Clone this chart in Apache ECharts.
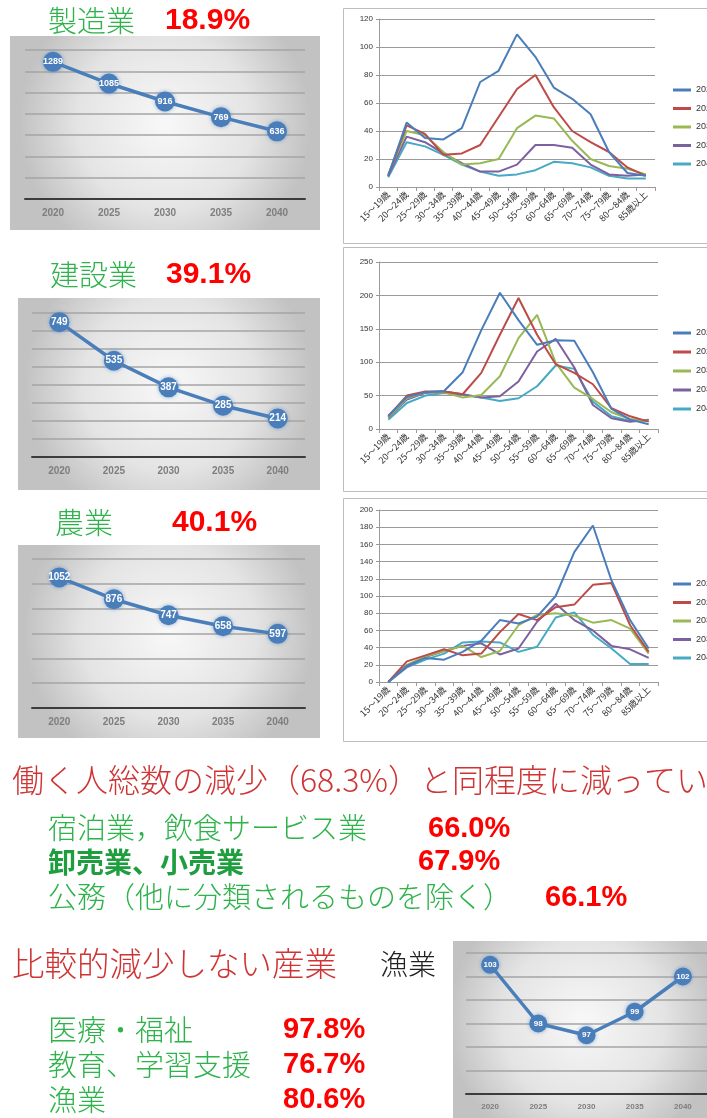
<!DOCTYPE html>
<html>
<head>
<meta charset="utf-8">
<script src="https://cdn.jsdelivr.net/npm/echarts@6/dist/echarts.min.js"></script>
<style>
  html, body { margin: 0; padding: 0; background: #ffffff; }
  #main { width: 707px; height: 1118px; }
</style>
</head>
<body>
<div id="main"></div>
<script>
// ---- data ----
const years = ['2020', '2025', '2030', '2035', '2040'];
const ageGroups = ['15～19歳', '20～24歳', '25～29歳', '30～34歳', '35～39歳', '40～44歳', '45～49歳',
  '50～54歳', '55～59歳', '60～64歳', '65～69歳', '70～74歳', '75～79歳', '80～84歳', '85歳以上'];

// workers by industry, total per census year
const mfgTotal = [1289, 1085, 916, 769, 636];
const conTotal = [749, 535, 387, 285, 214];
const agrTotal = [1052, 876, 747, 658, 597];
const fishTotal = [103, 98, 97, 99, 102];

// manufacturing by age group
const mfg2020 = [8, 46, 35, 34, 42, 75, 83, 109, 93, 71, 63, 52, 25, 10, 8];
const mfg2025 = [8, 44, 38, 23, 24, 30, 50, 70, 80, 57, 40, 32, 25, 14, 8];
const mfg2030 = [9, 40, 37, 25, 16, 17, 20, 42, 51, 49, 33, 20, 15, 13, 9];
const mfg2035 = [8, 36, 32, 24, 17, 11, 11, 16, 30, 30, 28, 16, 9, 8, 9];
const mfg2040 = [7, 32, 29, 23, 16, 11, 8, 9, 12, 18, 17, 14, 8, 6, 6];

// construction by age group
const con2020 = [20, 48, 55, 57, 85, 148, 204, 163, 126, 133, 132, 85, 30, 14, 7];
const con2025 = [19, 50, 56, 56, 52, 84, 141, 196, 141, 97, 84, 67, 31, 19, 11];
const con2030 = [18, 46, 55, 55, 47, 51, 79, 136, 171, 99, 62, 45, 25, 15, 12];
const con2035 = [17, 44, 54, 56, 52, 47, 49, 71, 116, 135, 92, 36, 16, 11, 14];
const con2040 = [14, 39, 50, 54, 51, 47, 42, 46, 64, 95, 90, 41, 19, 12, 13];

// agriculture by age group
const agr2020 = [0, 19, 28, 26, 35, 48, 72, 68, 76, 100, 151, 182, 118, 72, 39];
const agr2025 = [0, 24, 31, 38, 31, 33, 58, 79, 72, 87, 90, 113, 115, 66, 35];
const agr2030 = [0, 20, 30, 36, 42, 29, 36, 66, 78, 80, 77, 69, 72, 62, 33];
const agr2035 = [0, 18, 29, 36, 42, 45, 32, 39, 70, 91, 72, 60, 42, 38, 28];
const agr2040 = [0, 17, 26, 33, 46, 47, 46, 35, 41, 75, 81, 55, 39, 21, 21];

// ---- styling ----
const JP = '"Noto Sans CJK JP", "Noto Sans", sans-serif';
const NUM = '"Liberation Sans", Arial, sans-serif';
const GREEN = '#2db34a';
const RED = '#ff0000';
const HEAD_RED = '#cf3434';
const LINE_BLUE = '#4a7ebb';
const yearColors = ['#4a7ebb', '#be4b48', '#98b954', '#7d60a0', '#46aac5'];

const chart = echarts.init(document.getElementById('main'), null, { renderer: 'canvas' });

// summary panels (single line per industry, labelled markers)
const summaryPanels = [
  { data: mfgTotal, grid: { left: 25, top: 50, width: 280, height: 149 }, max: 1400, interval: 200, size: 20, font: 9 },
  { data: conTotal, grid: { left: 32, top: 313, width: 273, height: 144 }, max: 800, interval: 100, size: 20, font: 10 },
  { data: agrTotal, grid: { left: 32, top: 559, width: 273, height: 149 }, max: 1200, interval: 200, size: 20, font: 10 },
  { data: fishTotal, grid: { left: 466, top: 953, width: 247, height: 141 }, min: 92, max: 104, interval: 2, size: 18, font: 8 }
];

// age-distribution panels
const agePanels = [
  { series: [mfg2020, mfg2025, mfg2030, mfg2035, mfg2040], grid: { left: 379, top: 19, width: 276, height: 168 }, max: 120, interval: 20, legendTop: 79, gap: 6.5 },
  { series: [con2020, con2025, con2030, con2035, con2040], grid: { left: 379, top: 262, width: 279, height: 167 }, max: 250, interval: 50, legendTop: 322, gap: 7 },
  { series: [agr2020, agr2025, agr2030, agr2035, agr2040], grid: { left: 379, top: 510, width: 279, height: 172 }, max: 200, interval: 20, legendTop: 573, gap: 6.5 }
];

const grids = [], xAxes = [], yAxes = [], series = [], legends = [];

summaryPanels.forEach((p, i) => {
  grids.push(Object.assign({ containLabel: false }, p.grid));
  xAxes.push({
    type: 'category', gridIndex: i, data: years, boundaryGap: true,
    axisLine: { lineStyle: { color: '#3c3c3c', width: 2 } },
    axisTick: { show: false },
    axisLabel: { color: '#7e7e7e', fontSize: i === 3 ? 8 : 10, fontWeight: 'bold', fontFamily: NUM, margin: 9 }
  });
  yAxes.push({
    type: 'value', gridIndex: i, min: p.min || 0, max: p.max, interval: p.interval,
    axisLine: { show: false }, axisTick: { show: false }, axisLabel: { show: false },
    splitLine: { lineStyle: { color: '#a4a4a4', width: 1.5 } }
  });
  series.push({
    type: 'line', name: 'total' + i, xAxisIndex: i, yAxisIndex: i, data: p.data,
    symbol: 'circle', symbolSize: p.size,
    lineStyle: { color: LINE_BLUE, width: 3.5 },
    itemStyle: { color: LINE_BLUE, shadowBlur: 4, shadowColor: 'rgba(74,126,187,0.6)' },
    label: { show: true, position: 'inside', color: '#ffffff', fontSize: p.font, fontWeight: 'bold', fontFamily: NUM },
    z: 5
  });
});

agePanels.forEach((p, k) => {
  const gi = summaryPanels.length + k;
  grids.push(Object.assign({ containLabel: false }, p.grid));
  xAxes.push({
    type: 'category', gridIndex: gi, data: ageGroups, boundaryGap: true,
    axisLine: { lineStyle: { color: '#9a9a9a', width: 1 } },
    axisTick: { show: true, interval: 0, length: 4, lineStyle: { color: '#9a9a9a' } },
    axisLabel: { interval: 0, rotate: 45, fontSize: 9, color: '#333333', fontFamily: JP, margin: 6 }
  });
  yAxes.push({
    type: 'value', gridIndex: gi, min: 0, max: p.max, interval: p.interval,
    axisLine: { show: true, lineStyle: { color: '#9a9a9a' } },
    axisTick: { show: true, length: 3, lineStyle: { color: '#9a9a9a' } },
    axisLabel: { fontSize: 8, color: '#333333', fontFamily: NUM, margin: 6 },
    splitLine: { lineStyle: { color: '#9a9a9a', width: 1 } }
  });
  p.series.forEach((vals, j) => {
    series.push({
      type: 'line', name: years[j], xAxisIndex: gi, yAxisIndex: gi, data: vals,
      symbol: 'none', lineStyle: { color: yearColors[j], width: 2 },
      itemStyle: { color: yearColors[j] }, z: 5 - j * 0.1
    });
  });
  legends.push({
    data: years, orient: 'vertical', left: 668, top: p.legendTop, itemGap: p.gap,
    icon: 'rect', itemWidth: 18, itemHeight: 3,
    textStyle: { fontSize: 9, color: '#333333', fontFamily: NUM, lineHeight: 12 },
    selectedMode: false
  });
});

// panel backgrounds
function greyPanel(x, y, w, h) {
  return {
    type: 'rect', z: -10, shape: { x: x, y: y, width: w, height: h },
    style: {
      fill: new echarts.graphic.RadialGradient(0.5, 0.45, 0.75, [
        { offset: 0, color: '#f8f8f8' }, { offset: 0.6, color: '#e4e4e4' }, { offset: 1, color: '#c2c2c2' }
      ])
    }
  };
}
function framePanel(x, y, w, h) {
  return { type: 'rect', z: -10, shape: { x: x, y: y, width: w, height: h },
    style: { fill: '#ffffff', stroke: '#bdbdbd', lineWidth: 1 } };
}
function txt(text, x, y, size, color, opts) {
  opts = opts || {};
  return {
    type: 'text', z: 100, x: x, y: y,
    style: {
      text: text, fill: color, fontSize: size,
      fontFamily: opts.family || JP, fontWeight: opts.weight || 300,
      verticalAlign: 'middle', align: 'left'
    }
  };
}
const bold = { family: NUM, weight: 'bold' };

const graphics = [
  greyPanel(10, 36, 310, 194),
  greyPanel(18, 298, 302, 192),
  greyPanel(18, 545, 302, 193),
  greyPanel(453, 941, 260, 180),
  framePanel(343.5, 8.5, 370, 235),
  framePanel(343.5, 247.5, 370, 244),
  framePanel(343.5, 498.5, 370, 243),

  txt('製造業', 48, 21, 29, GREEN),
  txt('18.9%', 165, 21, 30, RED, bold),
  txt('建設業', 50, 275, 29, GREEN),
  txt('39.1%', 166, 275, 30, RED, bold),
  txt('農業', 55, 523, 29, GREEN),
  txt('40.1%', 172, 523, 30, RED, bold),

  txt('働く人総数の減少（68.3%）と同程度に減ってい', 12, 780, 32, HEAD_RED),
  txt('宿泊業，飲食サービス業', 48, 828, 29, GREEN),
  txt('66.0%', 428, 829, 29, RED, bold),
  txt('卸売業、小売業', 48, 862, 28, '#1f9e3f', { weight: 'bold' }),
  txt('67.9%', 418, 862, 29, RED, bold),
  txt('公務（他に分類されるものを除く）', 48, 897, 29, GREEN),
  txt('66.1%', 545, 898, 29, RED, bold),

  txt('比較的減少しない産業', 12, 964, 32.5, HEAD_RED),
  txt('漁業', 380, 964, 28, '#222222'),
  txt('医療・福祉', 48, 1030, 29, GREEN),
  txt('97.8%', 283, 1030, 29, RED, bold),
  txt('教育、学習支援', 48, 1065, 29, GREEN),
  txt('76.7%', 283, 1065, 29, RED, bold),
  txt('漁業', 48, 1100, 29, GREEN),
  txt('80.6%', 283, 1100, 29, RED, bold)
];

chart.setOption({
  animation: false,
  backgroundColor: '#ffffff',
  grid: grids,
  xAxis: xAxes,
  yAxis: yAxes,
  legend: legends,
  series: series,
  graphic: { elements: graphics }
});
</script>
</body>
</html>
